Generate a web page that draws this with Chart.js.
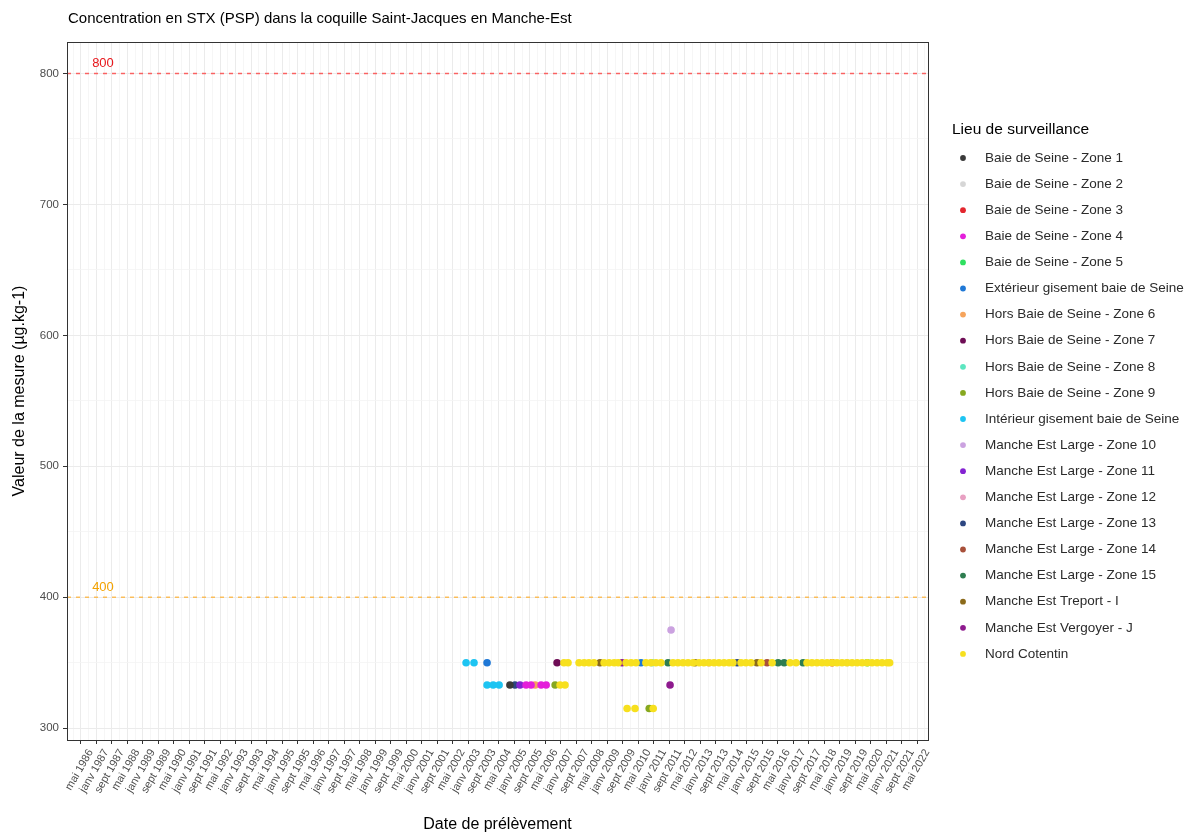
<!DOCTYPE html>
<html>
<head>
<meta charset="utf-8">
<script src="https://cdn.jsdelivr.net/npm/chart.js@4.4.0/dist/chart.umd.min.js"></script>
<style>
  body { margin: 0; background: #fff; }
</style>
</head>
<body>
<canvas id="stxChart" width="1197" height="835"></canvas>
<script>
// ---- data ----
const chartTitle = 'Concentration en STX (PSP) dans la coquille Saint-Jacques en Manche-Est';
const xTitle = 'Date de prélèvement';
const yTitle = 'Valeur de la mesure (µg.kg-1)';
const legendTitle = 'Lieu de surveillance';

const seriesNames = [
  'Baie de Seine - Zone 1', 'Baie de Seine - Zone 2', 'Baie de Seine - Zone 3',
  'Baie de Seine - Zone 4', 'Baie de Seine - Zone 5', 'Extérieur gisement baie de Seine',
  'Hors Baie de Seine - Zone 6', 'Hors Baie de Seine - Zone 7', 'Hors Baie de Seine - Zone 8',
  'Hors Baie de Seine - Zone 9', 'Intérieur gisement baie de Seine', 'Manche Est Large - Zone 10',
  'Manche Est Large - Zone 11', 'Manche Est Large - Zone 12', 'Manche Est Large - Zone 13',
  'Manche Est Large - Zone 14', 'Manche Est Large - Zone 15', 'Manche Est Treport - I',
  'Manche Est Vergoyer - J', 'Nord Cotentin'
];
const seriesColors = [
  '#3A3A3A', '#D6D6D6', '#E3262E', '#E41FDA', '#2FE060', '#1F78D6',
  '#F6A45C', '#6E0D55', '#5CE6C0', '#86A81F', '#1DC4F2', '#CBA2E0',
  '#8423D2', '#E8A0C2', '#2C4681', '#A8503A', '#2E7D50', '#8B6A1A',
  '#8E1A8E', '#F7E01E'
];

// [date, value]
const baieZone1 = [['2004-10-21', 333]];
const baieZone2 = [['2019-04-25', 350]];
const baieZone3 = [['2018-09-03', 350]];
const baieZone4 = [['2005-07-01', 333], ['2005-09-18', 333], ['2006-02-24', 333], ['2006-05-12', 333]];
const baieZone5 = [['2020-03-07', 350]];
const exterieur = [['2003-10-27', 350], ['2010-06-12', 350]];
const horsZone6 = [['2005-11-21', 333]];
const horsZone7 = [['2006-11-01', 350]];
const horsZone8 = [['2010-12-01', 350]];
const horsZone9 = [['2006-10-01', 333], ['2010-10-19', 315]];
const interieur = [['2002-12-01', 350], ['2003-04-04', 350], ['2003-10-27', 333], ['2004-02-01', 333], ['2004-05-03', 333]];
const largeZone10 = [['2011-09-28', 375]];
const largeZone11 = [['2005-03-27', 333]];
const largeZone12 = [['2013-05-15', 350]];
const largeZone13 = [['2005-01-09', 333], ['2014-08-01', 350]];
const largeZone14 = [['2015-11-15', 350]];
const largeZone15 = [['2011-08-10', 350], ['2016-05-06', 350], ['2016-08-10', 350], ['2017-06-03', 350]];
const treport = [['2008-09-06', 350], ['2012-10-09', 350], ['2015-06-09', 350]];
const vergoyer = [['2009-08-18', 350], ['2011-09-12', 333]];
const nordCotentin = [
  ['2006-12-18', 333], ['2007-03-04', 333],
  ['2007-02-18', 350], ['2007-04-21', 350], ['2007-10-12', 350], ['2008-01-01', 350],
  ['2008-03-15', 350], ['2008-06-03', 350], ['2008-11-10', 350], ['2009-01-28', 350],
  ['2009-04-16', 350], ['2009-06-18', 350], ['2009-10-21', 350], ['2010-01-09', 350],
  ['2010-03-25', 350], ['2010-08-28', 350], ['2010-11-15', 350], ['2011-02-03', 350],
  ['2011-04-21', 350], ['2011-10-28', 350], ['2012-01-15', 350], ['2012-04-03', 350],
  ['2012-06-21', 350], ['2012-09-09', 350], ['2012-12-12', 350], ['2013-02-27', 350],
  ['2013-05-15', 350], ['2013-08-03', 350], ['2013-10-21', 350], ['2014-01-09', 350],
  ['2014-03-27', 350], ['2014-05-27', 350], ['2014-10-01', 350], ['2014-12-18', 350],
  ['2015-03-06', 350], ['2015-08-12', 350], ['2016-02-03', 350], ['2016-11-12', 350],
  ['2017-02-15', 350], ['2017-08-04', 350], ['2017-10-21', 350], ['2018-01-09', 350],
  ['2018-03-28', 350], ['2018-06-16', 350], ['2018-09-03', 350], ['2018-11-19', 350],
  ['2019-02-07', 350], ['2019-04-25', 350], ['2019-07-13', 350], ['2019-10-01', 350],
  ['2019-12-19', 350], ['2020-03-07', 350], ['2020-05-22', 350], ['2020-08-10', 350],
  ['2020-10-28', 350], ['2021-01-16', 350], ['2021-02-25', 350],
  ['2009-11-06', 315], ['2010-03-09', 315], ['2010-12-21', 315]
];
const seriesData = [
  baieZone1, baieZone2, baieZone3, baieZone4, baieZone5, exterieur,
  horsZone6, horsZone7, horsZone8, horsZone9, interieur, largeZone10,
  largeZone11, largeZone12, largeZone13, largeZone14, largeZone15, treport,
  vergoyer, nordCotentin
];

const thresholdValues = [800, 400];
const thresholdLabels = ['800', '400'];
const thresholdLineColors = ['rgba(255,40,40,0.7)', 'rgba(255,170,30,0.7)'];
const thresholdTextColors = ['#E8161B', '#F4A300'];
const thresholdTextDate = '1987-04-15';

const xTickLabels = [
  'mai 1986', 'janv 1987', 'sept 1987', 'mai 1988', 'janv 1989', 'sept 1989', 'mai 1990',
  'janv 1991', 'sept 1991', 'mai 1992', 'janv 1993', 'sept 1993', 'mai 1994', 'janv 1995',
  'sept 1995', 'mai 1996', 'janv 1997', 'sept 1997', 'mai 1998', 'janv 1999', 'sept 1999',
  'mai 2000', 'janv 2001', 'sept 2001', 'mai 2002', 'janv 2003', 'sept 2003', 'mai 2004',
  'janv 2005', 'sept 2005', 'mai 2006', 'janv 2007', 'sept 2007', 'mai 2008', 'janv 2009',
  'sept 2009', 'mai 2010', 'janv 2011', 'sept 2011', 'mai 2012', 'janv 2013', 'sept 2013',
  'mai 2014', 'janv 2015', 'sept 2015', 'mai 2016', 'janv 2017', 'sept 2017', 'mai 2018',
  'janv 2019', 'sept 2019', 'mai 2020', 'janv 2021', 'sept 2021', 'mai 2022'
];
const xLimits = ['1985-09-28', '2022-10-19'];
const yTicks = [300, 400, 500, 600, 700, 800];
const yLimits = [291, 824];

// ---- helpers ----
const monthNames = ['janv', 'févr', 'mars', 'avr', 'mai', 'juin', 'juil', 'août', 'sept', 'oct', 'nov', 'déc'];
function dateToMonths(s) {
  const [y, m, d] = s.split('-').map(Number);
  return y * 12 + (m - 1) + (d - 1) / 31;
}
function labelToMonths(lbl) {
  const [mon, yr] = lbl.split(' ');
  return Number(yr) * 12 + monthNames.indexOf(mon);
}
const xTickValues = xTickLabels.map(labelToMonths);
const xMin = dateToMonths(xLimits[0]);
const xMax = dateToMonths(xLimits[1]);

const FONT = '"Liberation Sans", Arial, sans-serif';

const datasets = seriesNames.map((name, i) => ({
  type: 'scatter',
  label: name,
  inLegend: true,
  data: seriesData[i].map(p => ({x: dateToMonths(p[0]), y: p[1]})),
  backgroundColor: seriesColors[i],
  borderWidth: 0,
  pointRadius: 3.8,
  pointHoverRadius: 3.8,
  order: name === 'Nord Cotentin' ? -1 : i
}));
thresholdValues.forEach((v, i) => {
  datasets.push({
    type: 'line',
    label: 'seuil ' + thresholdLabels[i],
    inLegend: false,
    data: [{x: xMin, y: v}, {x: xMax, y: v}],
    borderColor: thresholdLineColors[i],
    backgroundColor: thresholdLineColors[i],
    borderWidth: 1.5,
    borderDash: [4, 5],
    pointRadius: 0,
    fill: false,
    order: 100
  });
});

// ---- plugins ----
const framePlugin = {
  id: 'frame',
  afterDraw(chart) {
    const {ctx, chartArea: a} = chart;
    const xs = chart.scales.x, ys = chart.scales.y;
    ctx.save();
    // threshold annotations
    ctx.font = '13px ' + FONT;
    ctx.textAlign = 'center';
    ctx.textBaseline = 'middle';
    thresholdValues.forEach((v, i) => {
      ctx.fillStyle = thresholdTextColors[i];
      ctx.fillText(thresholdLabels[i], xs.getPixelForValue(dateToMonths(thresholdTextDate)), ys.getPixelForValue(v) - 10);
    });
    // panel border
    ctx.strokeStyle = '#333333';
    ctx.lineWidth = 1;
    ctx.strokeRect(Math.round(a.left) + 0.5, Math.round(a.top) + 0.5, Math.round(a.right - a.left), Math.round(a.bottom - a.top));
    // title
    ctx.fillStyle = '#000';
    ctx.font = '15px ' + FONT;
    ctx.textAlign = 'left';
    ctx.fillText(chartTitle, a.left + 1, 19);
    // legend
    const lx = a.right + 24;
    ctx.font = '15.5px ' + FONT;
    ctx.fillText(legendTitle, lx, 130);
    let ly = 158;
    ctx.font = '13.5px ' + FONT;
    chart.data.datasets.forEach(ds => {
      if (!ds.inLegend) return;
      ctx.beginPath();
      ctx.arc(lx + 11, ly, 2.9, 0, Math.PI * 2);
      ctx.fillStyle = ds.backgroundColor;
      ctx.fill();
      ctx.fillStyle = '#2b2b2b';
      ctx.fillText(ds.label, lx + 33, ly);
      ly += 26.1;
    });
    ctx.restore();
  }
};

const isMinor = ctx => ctx.tick && ctx.tick.minor;

new Chart(document.getElementById('stxChart'), {
  type: 'scatter',
  data: {datasets},
  options: {
    responsive: false,
    animation: false,
    events: [],
    layout: {padding: {top: 42, right: 269, left: 0, bottom: 0}},
    plugins: {legend: {display: false}, tooltip: {enabled: false}},
    scales: {
      x: {
        type: 'linear',
        min: xMin,
        max: xMax,
        afterBuildTicks: scale => {
          const t = [];
          t.push({value: xTickValues[0] - 4, minor: true});
          xTickValues.forEach((v, i) => {
            t.push({value: v, label: xTickLabels[i]});
            t.push({value: v + 4, minor: true});
          });
          scale.ticks = t.filter(k => k.value >= xMin && k.value <= xMax);
        },
        afterFit: scale => { scale.height = 95; },
        ticks: {
          autoSkip: false,
          minRotation: 60,
          maxRotation: 60,
          padding: 3,
          labelOffset: 10,
          color: '#4D4D4D',
          font: {family: FONT, size: 11},
          callback: function (value, index, ticks) {
            return ticks[index].minor ? '' : ticks[index].label;
          }
        },
        grid: {
          color: ctx => isMinor(ctx) ? '#F4F4F4' : '#EBEBEB',
          lineWidth: ctx => isMinor(ctx) ? 0.8 : 1,
          tickColor: ctx => isMinor(ctx) ? 'rgba(0,0,0,0)' : '#333333',
          tickLength: 4
        },
        border: {display: false},
        title: {
          display: true,
          text: xTitle,
          color: '#000',
          font: {family: FONT, size: 16},
          padding: {top: 2, bottom: 1}
        }
      },
      y: {
        type: 'linear',
        min: yLimits[0],
        max: yLimits[1],
        afterBuildTicks: scale => {
          const t = [];
          yTicks.forEach((v, i) => {
            t.push({value: v});
            if (i < yTicks.length - 1) t.push({value: v + 50, minor: true});
          });
          scale.ticks = t;
        },
        afterFit: scale => { scale.width = 67; },
        ticks: {
          autoSkip: false,
          padding: 4,
          color: '#4D4D4D',
          font: {family: FONT, size: 11.5},
          callback: function (value, index, ticks) {
            return ticks[index].minor ? '' : String(value);
          }
        },
        grid: {
          color: ctx => isMinor(ctx) ? '#F4F4F4' : '#EBEBEB',
          lineWidth: ctx => isMinor(ctx) ? 0.8 : 1,
          tickColor: ctx => isMinor(ctx) ? 'rgba(0,0,0,0)' : '#333333',
          tickLength: 4
        },
        border: {display: false},
        title: {
          display: true,
          text: yTitle,
          color: '#000',
          font: {family: FONT, size: 16},
          padding: {top: 10, bottom: 0}
        }
      }
    }
  },
  plugins: [framePlugin]
});
</script>
</body>
</html>
